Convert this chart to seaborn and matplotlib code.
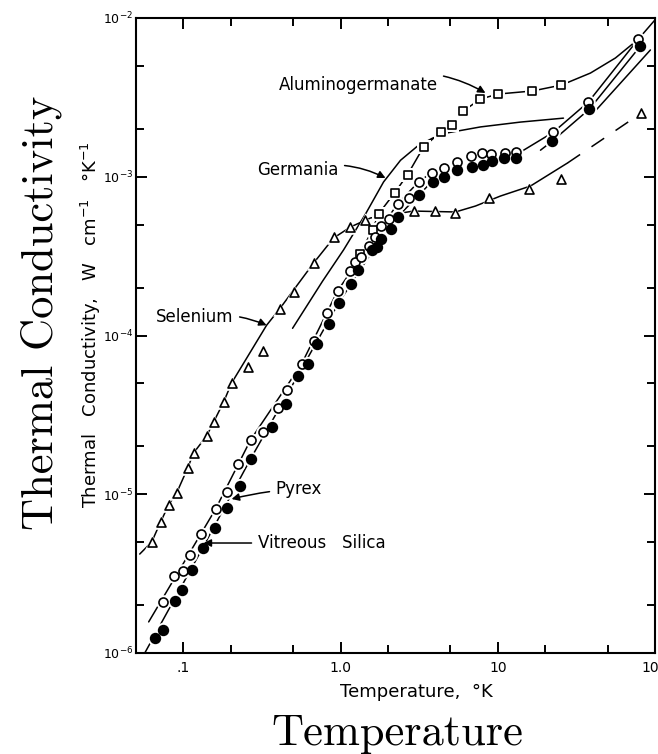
import matplotlib
matplotlib.use("Agg")
import matplotlib.pyplot as plt
from matplotlib.ticker import NullFormatter
import seaborn as sns

# ---- measured thermal conductivity, W cm^-1 K^-1, vs temperature, K ----
selenium_T = [0.0629, 0.0717, 0.0806, 0.0907, 0.1065, 0.1162, 0.1406, 0.1558, 0.1804,
              0.2028, 0.2563, 0.3192, 0.4095, 0.5026, 0.6737, 0.9026, 1.141, 1.421,
              2.912, 3.960, 5.384, 8.855, 15.91, 25.41, 81.95]
selenium_K = [5.00e-6, 6.69e-6, 8.56e-6, 1.02e-5, 1.46e-5, 1.82e-5, 2.33e-5, 2.85e-5, 3.81e-5,
              5.02e-5, 6.33e-5, 7.99e-5, 1.47e-4, 1.88e-4, 2.86e-4, 4.17e-4, 4.83e-4, 5.34e-4,
              6.08e-4, 6.08e-4, 5.91e-4, 7.35e-4, 8.37e-4, 9.68e-4, 2.52e-3]

pyrex_T = [0.0739, 0.0868, 0.0990, 0.1096, 0.1288, 0.1604, 0.1885, 0.2214, 0.2678, 0.3192,
           0.3976, 0.4536, 0.5651, 0.6737, 0.8147, 0.9571, 1.141, 1.227, 1.340, 1.507,
           1.645, 1.796, 2.020, 2.303, 2.706, 3.132, 3.790, 4.517, 5.544, 6.805,
           7.993, 9.120, 11.19, 13.15, 22.60, 37.73, 78.43]
pyrex_K = [2.10e-6, 3.05e-6, 3.28e-6, 4.14e-6, 5.62e-6, 8.07e-6, 1.03e-5, 1.55e-5, 2.20e-5, 2.47e-5,
           3.49e-5, 4.53e-5, 6.61e-5, 9.23e-5, 1.39e-4, 1.91e-4, 2.55e-4, 2.90e-4, 3.12e-4, 3.66e-4,
           4.17e-4, 4.90e-4, 5.42e-4, 6.73e-4, 7.35e-4, 9.27e-4, 1.06e-3, 1.14e-3, 1.24e-3, 1.35e-3,
           1.41e-3, 1.39e-3, 1.41e-3, 1.43e-3, 1.91e-3, 2.96e-3, 7.37e-3]

silica_T = [0.0657, 0.0739, 0.0881, 0.0976, 0.1129, 0.1327, 0.1581, 0.1885, 0.2280, 0.2678,
            0.3641, 0.4469, 0.5328, 0.6169, 0.7038, 0.8390, 0.9711, 1.158, 1.283, 1.574,
            1.694, 1.796, 2.079, 2.303, 3.132, 3.846, 4.517, 5.544, 6.905, 8.111,
            9.254, 11.03, 13.15, 22.27, 38.28, 80.76]
silica_K = [1.24e-6, 1.40e-6, 2.13e-6, 2.49e-6, 3.33e-6, 4.59e-6, 6.13e-6, 8.19e-6, 1.13e-5, 1.67e-5,
            2.65e-5, 3.70e-5, 5.56e-5, 6.61e-5, 8.84e-5, 1.18e-4, 1.60e-4, 2.11e-4, 2.59e-4, 3.46e-4,
            3.61e-4, 4.05e-4, 4.69e-4, 5.58e-4, 7.67e-4, 9.27e-4, 9.96e-4, 1.10e-3, 1.15e-3, 1.19e-3,
            1.26e-3, 1.31e-3, 1.31e-3, 1.68e-3, 2.67e-3, 6.66e-3]

alumino_T = [1.321, 1.597, 1.744, 2.204, 2.667, 3.372, 4.323, 5.078, 6.053, 7.762, 10.10, 16.62, 25.41]
alumino_K = [3.26e-4, 4.62e-4, 5.83e-4, 7.90e-4, 1.03e-3, 1.54e-3, 1.91e-3, 2.12e-3, 2.60e-3,
             3.09e-3, 3.32e-3, 3.47e-3, 3.78e-3]

# ---- hand-drawn smoothing curves ----
selenium_fit_T = [0.0528, 0.0629, 0.0717, 0.0806, 0.0907, 0.1065, 0.1162, 0.1406, 0.1558, 0.1804,
                  0.2028, 0.3385, 0.4095, 0.6737, 0.9026, 1.158, 1.551, 2.912, 5.384, 7.215,
                  10.40, 16.14, 27.74]
selenium_fit_K = [4.20e-6, 5.00e-6, 6.69e-6, 8.56e-6, 1.02e-5, 1.46e-5, 1.82e-5, 2.33e-5, 2.85e-5, 3.81e-5,
                  5.02e-5, 1.16e-4, 1.47e-4, 2.86e-4, 4.11e-4, 4.83e-4, 5.50e-4, 6.08e-4, 6.00e-4, 6.54e-4,
                  7.56e-4, 8.74e-4, 1.22e-3]
selenium_tail_T = [27.74, 81.95]
selenium_tail_K = [1.22e-3, 2.52e-3]

germania_T = [0.4952, 0.7685, 1.045, 1.442, 1.877, 2.407, 3.087, 3.846, 4.789, 7.762, 13.94, 26.17]
germania_K = [1.11e-4, 2.20e-4, 3.46e-4, 5.83e-4, 9.27e-4, 1.27e-3, 1.56e-3, 1.75e-3, 1.89e-3,
              2.06e-3, 2.21e-3, 2.34e-3]

alumino_head_T = [1.108]
alumino_head_K = [2.34e-4]
alumino_tail_T = [38.85, 56.02, 77.28]
alumino_tail_K = [4.50e-3, 5.60e-3, 7.27e-3]

pyrex_fit_low_T = [0.0602, 0.1604, 0.2678, 0.5651, 0.9571, 1.645, 2.303, 3.132, 3.790]
pyrex_fit_low_K = [1.57e-6, 8.07e-6, 2.20e-5, 6.61e-5, 1.91e-4, 4.17e-4, 6.73e-4, 9.27e-4, 1.06e-3]
pyrex_fit_high_T = [13.94, 22.60, 37.73, 78.43, 105.1]
pyrex_fit_high_K = [1.43e-3, 1.91e-3, 2.96e-3, 7.37e-3, 1.03e-2]

silica_fit_low_T = [0.0559, 0.1327, 0.2678, 0.5328, 0.9711, 1.694, 2.303, 3.735]
silica_fit_low_K = [9.7e-7, 4.59e-6, 1.67e-5, 5.56e-5, 1.60e-4, 3.72e-4, 5.58e-4, 9.13e-4]
silica_fit_high_T = [18.69, 22.27, 38.28, 80.76]
silica_fit_high_K = [1.47e-3, 1.68e-3, 2.67e-3, 6.66e-3]

upper_line_T = [40.59, 93.5]
upper_line_K = [2.52e-3, 6.29e-3]

# ---- axis ticks ----
x_major = [0.1, 1.0, 10, 100]
x_major_labels = [".1", "1.0", "10", "100"]
x_minor = [0.2, 0.5, 2, 5, 20, 50]
y_major = [1e-6, 1e-5, 1e-4, 1e-3, 1e-2]
y_major_labels = [r"$\mathregular{10^{-6}}$", r"$\mathregular{10^{-5}}$", r"$\mathregular{10^{-4}}$",
                  r"$\mathregular{10^{-3}}$", r"$\mathregular{10^{-2}}$"]
y_minor = [2e-6, 5e-6, 2e-5, 5e-5, 2e-4, 5e-4, 2e-3, 5e-3]

# ---- curve labels: (text, text T, text K, arrow T, arrow K, alignment, curvature) ----
labels = [
    ("Aluminogermanate", 4.137, 3.78e-3, 8.35, 3.37e-3, "right", -0.25),
    ("Germania", 0.971, 1.10e-3, 1.932, 9.82e-4, "right", -0.2),
    ("Selenium", 0.2088, 1.31e-4, 0.3385, 1.16e-4, "right", -0.15),
    ("Pyrex", 0.386, 1.08e-5, 0.2028, 9.33e-6, "left", 0.05),
    ("Vitreous   Silica", 0.2967, 4.93e-6, 0.1346, 4.93e-6, "left", 0.0),
]

sns.set_style("ticks")
plt.rcParams["font.family"] = ["DejaVu Sans"]
plt.rcParams["text.color"] = "black"

fig = plt.figure(figsize=(6.58, 7.54), dpi=100)
ax = fig.add_axes([136 / 658, 101 / 754, 519 / 658, 635 / 754])
ax.set_xscale("log")
ax.set_yscale("log")

LW = 1.1


def curve(T, K, **kw):
    sns.lineplot(x=T, y=K, ax=ax, sort=False, estimator=None, color="black",
                 linewidth=LW, legend=False, **kw)


curve(selenium_fit_T, selenium_fit_K)
curve(selenium_tail_T, selenium_tail_K, linestyle=(0, (10, 9)))
curve(germania_T, germania_K)
curve(alumino_head_T + alumino_T + alumino_tail_T, alumino_head_K + alumino_K + alumino_tail_K)
curve(pyrex_fit_low_T, pyrex_fit_low_K)
curve(pyrex_fit_high_T, pyrex_fit_high_K)
curve(silica_fit_low_T, silica_fit_low_K)
curve(silica_fit_high_T, silica_fit_high_K)
curve(upper_line_T, upper_line_K)


def points(T, K, marker, size, filled):
    # white halo first, so the curves break around each symbol
    sns.scatterplot(x=T, y=K, ax=ax, marker=marker, s=(size + 4) ** 2, color="white",
                    edgecolor="white", linewidth=0, zorder=3, legend=False)
    sns.scatterplot(x=T, y=K, ax=ax, marker=marker, s=size ** 2,
                    color="black" if filled else "white", edgecolor="black",
                    linewidth=1.2, zorder=4, legend=False)


points(selenium_T, selenium_K, "^", 6.5, False)
points(alumino_T, alumino_K, "s", 6.0, False)
points(pyrex_T, pyrex_K, "o", 6.5, False)
points(silica_T, silica_K, "o", 7.0, True)

for text, tx, ty, px, py, ha, rad in labels:
    ax.annotate(text, xy=(px, py), xytext=(tx, ty), ha=ha, va="center", fontsize=12,
                color="black", zorder=6,
                arrowprops=dict(arrowstyle="-|>", color="black", lw=1.1, shrinkA=2, shrinkB=0,
                                mutation_scale=11, connectionstyle=f"arc3,rad={rad}"))

ax.set_xlim(0.05, 100)
ax.set_ylim(1e-6, 1e-2)
ax.set_xticks(x_major, labels=x_major_labels)
ax.set_xticks(x_minor, minor=True)
ax.set_yticks(y_major, labels=y_major_labels)
ax.set_yticks(y_minor, minor=True)
ax.xaxis.set_minor_formatter(NullFormatter())
ax.yaxis.set_minor_formatter(NullFormatter())
ax.tick_params(which="both", direction="in", top=True, right=True, color="black",
               width=1.4, labelcolor="black")
ax.tick_params(which="major", length=8)
ax.tick_params(which="minor", length=5.5)
ax.tick_params(axis="x", pad=6, labelsize=10)
ax.tick_params(axis="y", pad=2, labelsize=9)
for sp in ax.spines.values():
    sp.set_color("black")
    sp.set_linewidth(1.5)

# lettering of the original figure
ax.text(0.5395, -0.0693, "Temperature,  °K", transform=ax.transAxes, ha="center",
        va="baseline", fontsize=13)
ax.text(-0.0751, 0.5165, r"Thermal   Conductivity,   W   cm$^{-1}$   °K$^{-1}$",
        transform=ax.transAxes, ha="center", va="baseline", rotation=90,
        rotation_mode="anchor", fontsize=13)

# axis titles
ax.set_xlabel("Temperature", fontfamily="cmr10", fontsize=32, color="black")
ax.xaxis.set_label_coords(0.503, -0.1449)
ax.xaxis.label.set_va("baseline")
ax.set_ylabel("Thermal Conductivity", fontfamily="cmr10", fontsize=32, color="black")
ax.yaxis.set_label_coords(-0.160, 0.535)
ax.yaxis.label.set_va("baseline")

fig.savefig("out.png", dpi=100)
